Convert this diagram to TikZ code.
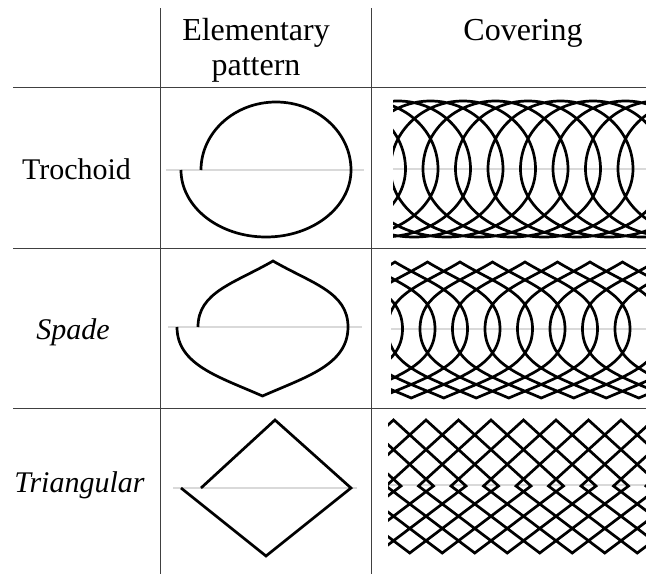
\documentclass[tikz,border=0pt]{standalone}
\usepackage{fontspec}
\setmainfont{Liberation Serif}
\usetikzlibrary{positioning}

\begin{document}
\begin{tikzpicture}[x=1pt, y=-1pt,
    tabline/.style={line width=1pt, black!75},
    midline/.style={line width=1.1pt, black!15},
    pathline/.style={line width=2.7pt, black},
    lbl/.style={anchor=base, inner sep=0pt, font=\fontsize{30}{36}\selectfont},
    head/.style={lbl, font=\fontsize{32}{38}\selectfont}]
    % Fix the page size
    \useasboundingbox (0,0) rectangle (646,574);

    % Draw the table rules
    \foreach \y in {87,248,408} \draw[tabline] (13,\y) -- (646,\y);
    \foreach \x in {160,371} \draw[tabline] (\x,8) -- (\x,574);

    % Column and row headings
    \node[head] (elem) at (256,40) {Elementary};
    \node[head] (patt) at (256,75) {pattern};
    \node[head] (cover) at (523,40) {Covering};
    \node[lbl] (troch) at (76.5,179) {Trochoid};
    \node[lbl] (spade) at (73,339) {\itshape Spade};
    \node[lbl] (tri) at (79.5,492) {\itshape Triangular};

    % Light center lines
    \draw[midline] (166,170) -- (364,170) (393,169) -- (646,169);
    \draw[midline] (168,327) -- (362,327) (391,329) -- (646,329);
    \draw[midline] (173,488) -- (357,488) (388,485) -- (646,485);

    % Trochoid
    \draw[pathline] (201,170) arc[start angle=180, end angle=360, x radius=75, y radius=68]
        arc[start angle=0, end angle=180, x radius=85, y radius=67];
    \begin{scope}
        \clip (393,90) rectangle (646,245);
        \draw[pathline] (683,169) \foreach \k in {1,...,15} {
            arc[start angle=180, end angle=360, x radius=72.5, y radius=68]
            arc[start angle=0, end angle=180, x radius=88.75, y radius=68]};
    \end{scope}

    % Spade
    \draw[pathline] (198,327) .. controls +(0,-35) and +(-39,22.5) .. ++(75,-66)
        .. controls +(39,22.5) and +(0,-35) .. ++(75,66)
        .. controls +(0,38) and +(43,-19) .. ++(-85.5,69)
        .. controls +(-43,-19) and +(0,38) .. ++(-85.5,-69);
    \begin{scope}
        \clip (391,250) rectangle (646,405);
        \draw[pathline] (680,329) \foreach \k in {1,...,15} {
            .. controls +(0,-35.5) and +(-37.7,22.8) .. ++(72.5,-67)
            .. controls +(37.7,22.8) and +(0,-35.5) .. ++(72.5,67)
            .. controls +(0,38) and +(44.4,-19.3) .. ++(-88.75,69)
            .. controls +(-44.4,-19.3) and +(0,38) .. ++(-88.75,-69)};
    \end{scope}

    % Triangular
    \draw[pathline] (201,488) -- (275,420) -- (351,488) -- (266,556) -- (181,488);
    \begin{scope}
        \clip (388,410) rectangle (646,565);
        \draw[pathline] (678.5,486) \foreach \k in {1,...,15} {
            -- ++(72.5,-66) -- ++(72.5,66) -- ++(-88.75,67) -- ++(-88.75,-67)};
    \end{scope}
\end{tikzpicture}
\end{document}
